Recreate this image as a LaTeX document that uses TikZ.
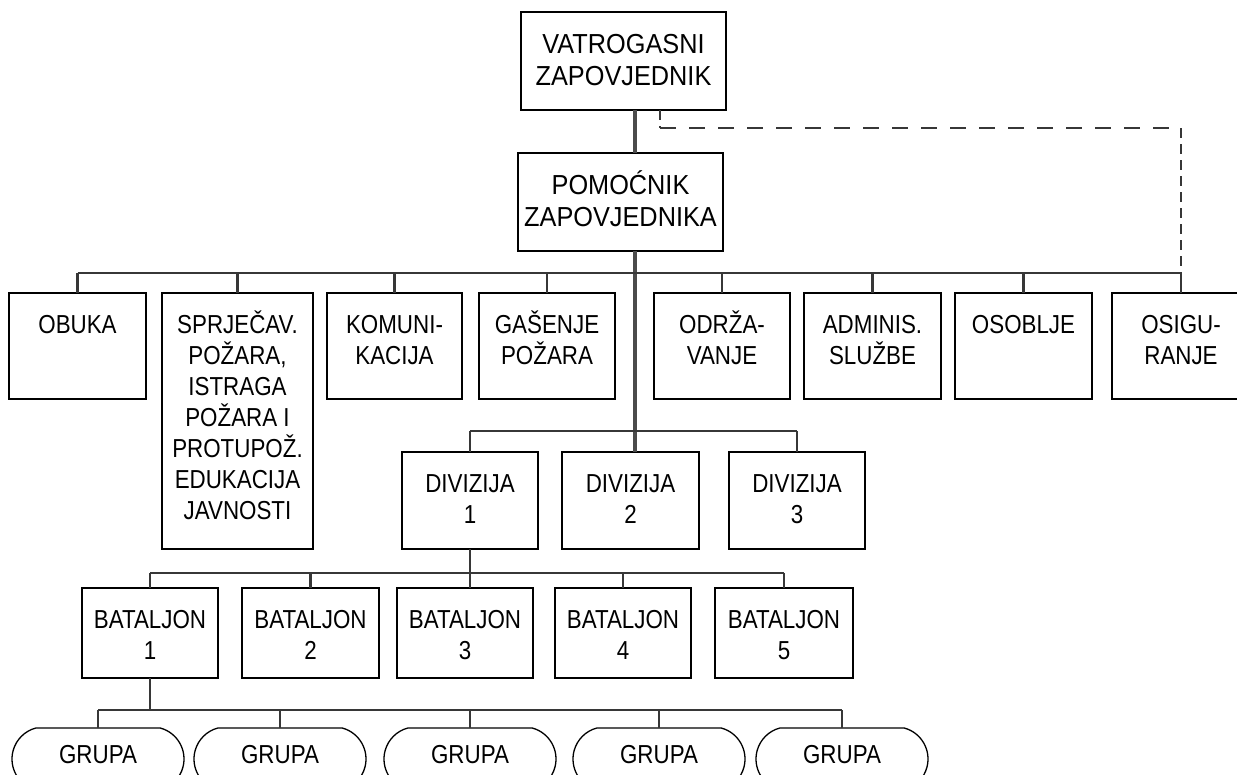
\documentclass[tikz,border=0pt]{standalone}
\usepackage{fontspec}
\setmainfont{Liberation Sans}[FakeStretch=0.86]
\newfontfamily\widefont{Liberation Sans}[FakeStretch=0.92]
\usetikzlibrary{shapes.misc}
\definecolor{lineg}{RGB}{55,55,55}
\definecolor{trunkg}{RGB}{75,75,75}
\newcommand{\orgtext}[3]{\parbox[c][#2][t]{#1}{\centering\fontsize{26}{31}\selectfont\rule{0pt}{40pt}#3\par}}
\newcommand{\topboxtext}[3]{\parbox[c][#2][t]{#1}{\centering\widefont\fontsize{27.5}{32}\selectfont\rule{0pt}{41pt}#3\par}}
\tikzset{
  orgbox/.style={draw=black, line width=1.3pt, rectangle, inner sep=0pt, outer sep=0pt},
  grupabox/.style={draw=black, line width=1.3pt, rounded rectangle, rounded rectangle arc length=150,
    minimum width=172pt, minimum height=62pt, inner sep=0pt, outer sep=0pt,
    text height=18.6pt, text depth=10pt, font=\fontsize{26}{31}\selectfont},
  conn/.style={draw=lineg, line width=2.2pt},
  trunkline/.style={draw=trunkg, line width=4.2pt},
  hdash/.style={draw=lineg, line width=1.8pt, dash pattern=on 16pt off 13pt},
  vdash/.style={draw=lineg, line width=1.8pt, dash pattern=on 10pt off 6pt}
}
\begin{document}
\begin{tikzpicture}[x=1pt,y=-1pt]
\useasboundingbox[fill=white] (0,0) rectangle (1237,774);
\coordinate (bar2) at (0,273);
\coordinate (divbar) at (0,431);
\coordinate (batbar) at (0,573);
\coordinate (gbar) at (0,710);
\coordinate (dashy) at (0,128);

% top
\node[orgbox] (top) at (623.5,61) {\topboxtext{205pt}{98pt}{VATROGASNI\\ZAPOVJEDNIK}};
\node[orgbox] (pom) at (620.5,202) {\topboxtext{205pt}{98pt}{POMOĆNIK\\ZAPOVJEDNIKA}};

% level 2
\node[orgbox] (obuka) at (77.5,346) {\orgtext{137pt}{106pt}{OBUKA}};
\node[orgbox] (sprj) at (237.5,421) {\orgtext{151pt}{256pt}{SPRJEČAV.\\POŽARA,\\ISTRAGA\\POŽARA I\\PROTUPOŽ.\\EDUKACIJA\\JAVNOSTI}};
\node[orgbox] (komu) at (394.5,346) {\orgtext{135pt}{106pt}{KOMUNI-\\KACIJA}};
\node[orgbox] (gas) at (547,346) {\orgtext{136pt}{106pt}{GAŠENJE\\POŽARA}};
\node[orgbox] (odr) at (722,346) {\orgtext{136pt}{106pt}{ODRŽA-\\VANJE}};
\node[orgbox] (adm) at (872.5,346) {\orgtext{137pt}{106pt}{ADMINIS.\\SLUŽBE}};
\node[orgbox] (oso) at (1023.5,346) {\orgtext{137pt}{106pt}{OSOBLJE}};
\node[orgbox] (osig) at (1181,346) {\orgtext{138pt}{106pt}{OSIGU-\\RANJE}};

% divisions
\node[orgbox] (div1) at (470,500.5) {\orgtext{136pt}{97pt}{DIVIZIJA\\1}};
\node[orgbox] (div2) at (630.5,500.5) {\orgtext{137pt}{97pt}{DIVIZIJA\\2}};
\node[orgbox] (div3) at (797,500.5) {\orgtext{136pt}{97pt}{DIVIZIJA\\3}};

% battalions
\node[orgbox] (bat1) at (150,633) {\orgtext{136pt}{90pt}{BATALJON\\1}};
\node[orgbox] (bat2) at (310.5,633) {\orgtext{137pt}{90pt}{BATALJON\\2}};
\node[orgbox] (bat3) at (465,633) {\orgtext{136pt}{90pt}{BATALJON\\3}};
\node[orgbox] (bat4) at (623,633) {\orgtext{136pt}{90pt}{BATALJON\\4}};
\node[orgbox] (bat5) at (784,633) {\orgtext{138pt}{90pt}{BATALJON\\5}};

% groups
\node[grupabox] (g1) at (98,759) {GRUPA};
\node[grupabox] (g2) at (280,759) {GRUPA};
\node[grupabox] (g3) at (470,759) {GRUPA};
\node[grupabox] (g4) at (659,759) {GRUPA};
\node[grupabox] (g5) at (842,759) {GRUPA};

% trunk
\draw[trunkline] ([xshift=11.5pt]top.south) -- ([xshift=14.5pt]pom.north);
\draw[trunkline] ([xshift=14.5pt]pom.south) -- ([xshift=4.5pt]div2.north);

% level 2 bar and drops
\draw[conn] (obuka.north |- bar2) -- (osig.north |- bar2);
\foreach \n in {obuka,sprj,komu,gas,odr,adm,oso,osig}
  \draw[conn] (\n.north |- bar2) -- (\n.north);

% dashed line
\coordinate (dstart) at ([xshift=36.5pt]top.south);
\draw[vdash] (dstart) -- (dstart |- dashy);
\draw[hdash] (dstart |- dashy) -- (osig.north |- dashy);
\draw[vdash] (osig.north |- dashy) -- (osig.north |- bar2);

% division bar
\draw[conn] (div1.north |- divbar) -- (div3.north |- divbar);
\draw[conn] (div1.north |- divbar) -- (div1.north);
\draw[conn] (div3.north |- divbar) -- (div3.north);

% battalion bar
\draw[conn] (div1.south) -- (div1.south |- bat3.north);
\draw[conn] (bat1.north |- batbar) -- (bat5.north |- batbar);
\foreach \n in {bat1,bat2,bat4,bat5}
  \draw[conn] (\n.north |- batbar) -- (\n.north);

% group bar
\draw[conn] (bat1.south) -- (bat1.south |- gbar);
\draw[conn] (g1.north |- gbar) -- (g5.north |- gbar);
\foreach \n in {g1,g2,g3,g4,g5}
  \draw[conn] (\n.north |- gbar) -- (\n.north);
\end{tikzpicture}
\end{document}
